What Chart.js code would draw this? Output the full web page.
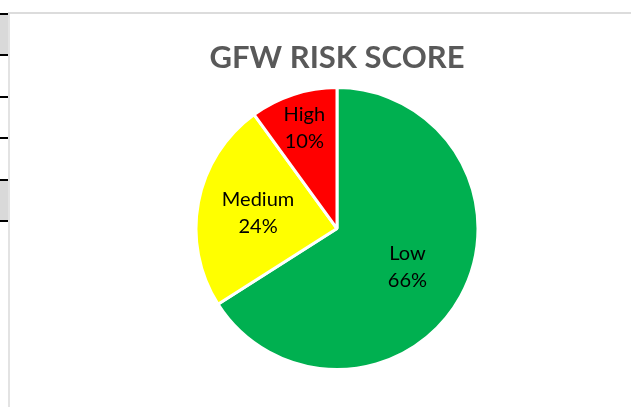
<!DOCTYPE html>
<html>
<head>
<meta charset="utf-8">
<script src="https://cdn.jsdelivr.net/npm/chart.js@4.4.1/dist/chart.umd.min.js"></script>
<style>
  html, body { margin: 0; padding: 0; background: #fff; }
  body { width: 631px; height: 407px; position: relative; overflow: hidden; }
  .cell { position: absolute; left: 0; width: 8px; background: #d9d9d9; }
  .tick { position: absolute; left: 0; width: 8px; height: 2px; background: #000; }
  #vline { position: absolute; left: 8px; top: 12px; width: 2px; height: 395px; background: #e3e3e3; }
  #hline { position: absolute; left: 8px; top: 12px; width: 623px; height: 2px; background: #dcdcdc; }
  #wrap { position: absolute; left: 10px; top: 14px; width: 621px; height: 393px; }
</style>
</head>
<body>
<div class="cell" style="top:15px;height:40px"></div>
<div class="cell" style="top:181px;height:40px"></div>
<div class="tick" style="top:13px"></div>
<div class="tick" style="top:54px"></div>
<div class="tick" style="top:96px"></div>
<div class="tick" style="top:137px"></div>
<div class="tick" style="top:179px"></div>
<div class="tick" style="top:220px"></div>
<div id="vline"></div>
<div id="hline"></div>
<div id="wrap"><canvas id="chart"></canvas></div>
<script>
const categories = ["Low", "Medium", "High"];
const shares = [66, 24, 10];
const sliceColors = ["#00B050", "#FFFF00", "#FF0000"];
const labelRadius = [0.57, 0.57, 0.75];

// draws "Name\nNN%" inside each slice
const sliceLabels = {
    id: 'sliceLabels',
    afterDatasetsDraw(chart) {
        const ctx = chart.ctx;
        const meta = chart.getDatasetMeta(0);
        ctx.save();
        ctx.fillStyle = '#000';
        ctx.font = '20px Lato';
        ctx.textAlign = 'center';
        ctx.textBaseline = 'middle';
        meta.data.forEach((arc, i) => {
            const mid = (arc.startAngle + arc.endAngle) / 2;
            const r = arc.outerRadius * labelRadius[i];
            const x = arc.x + Math.cos(mid) * r;
            const y = arc.y + Math.sin(mid) * r;
            ctx.fillText(categories[i], x, y - 13.5);
            ctx.fillText(shares[i] + '%', x, y + 13.5);
        });
        ctx.restore();
    }
};

new Chart(document.getElementById('chart'), {
    type: 'pie',
    data: {
        labels: categories,
        datasets: [{
            data: shares,
            backgroundColor: sliceColors,
            borderColor: '#ffffff',
            borderWidth: 3,
            radius: 141
        }]
    },
    options: {
        responsive: true,
        maintainAspectRatio: false,
        animation: false,
        layout: {padding: {left: 33, right: 0, top: 0, bottom: 33}},
        plugins: {
            legend: {display: false},
            tooltip: {enabled: false},
            title: {
                display: true,
                text: 'GFW RISK SCORE',
                color: '#595959',
                font: {family: 'Lato', size: 31, weight: 'bold'},
                padding: {top: 25, bottom: 7}
            }
        }
    },
    plugins: [sliceLabels]
});
</script>
</body>
</html>
